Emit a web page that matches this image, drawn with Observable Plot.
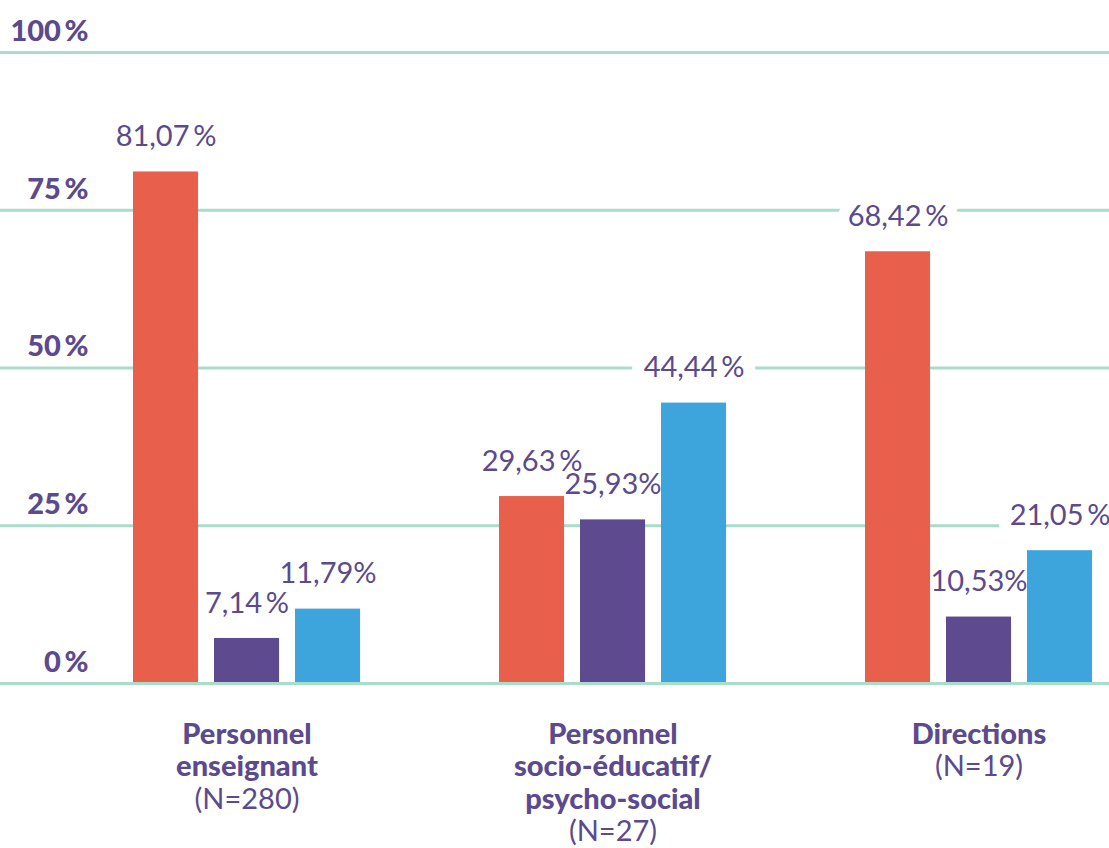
<!DOCTYPE html>
<html><head><meta charset="utf-8">
<script src="https://cdn.jsdelivr.net/npm/d3@7"></script>
<script src="https://cdn.jsdelivr.net/npm/@observablehq/plot@0.6"></script>
<style>body{margin:0;background:#fff;} svg{display:block;}</style>
</head><body><div id="chart"></div>
<script>
const categories = ["Personnel enseignant", "Personnel socio-éducatif/psycho-social", "Directions"];
const categoryLines = [["Personnel", "enseignant"], ["Personnel", "socio-éducatif/", "psycho-social"], ["Directions"]];
const categoryN = ["(N=280)", "(N=27)", "(N=19)"];
const series = ["Série 1", "Série 2", "Série 3"];
const seriesColors = ["#E8604C", "#5E4A8E", "#3DA5DC"];
const values1 = [81.07, 29.63, 68.42];
const values2 = [7.14, 25.93, 10.53];
const values3 = [11.79, 44.44, 21.05];
const labels1 = ["81,07\u2009%", "29,63\u2009%", "68,42\u2009%"];
const labels2 = ["7,14\u2009%", "25,93%", "10,53%"];
const labels3 = ["11,79%", "44,44\u2009%", "21,05\u2009%"];
const yTicks = [0, 25, 50, 75, 100];
const yTickLabels = ["0\u2009%", "25\u2009%", "50\u2009%", "75\u2009%", "100\u2009%"];

const textColor = "#5B4A8E";
const gridColor = "#A9DCCB";
const allValues = [values1, values2, values3];
const allLabels = [labels1, labels2, labels3];

const xRange = [133, 1092];
const xPadIn = 0.38;
const band = d3.scaleBand().domain(categories).range(xRange).paddingInner(xPadIn).paddingOuter(0);
const bw = band.bandwidth();
const barW = 65, barStep = 81;

const barData = series.map((s, i) => categories.map((c, j) => ({category: c, series: s, value: allValues[i][j], label: allLabels[i][j]})));

const marks = [];
marks.push(Plot.ruleY(yTicks.filter(d => d > 0), {y: d => d, stroke: gridColor, strokeWidth: 3}));
barData.forEach((data, i) => {
  marks.push(Plot.text(data, {x: "category", y: "value", text: "label", dx: (i - 1) * barStep, dy: -35,
    lineAnchor: "middle", fontSize: 29, fill: "white", stroke: "white", strokeWidth: 24}));
});
barData.forEach((data, i) => {
  marks.push(Plot.barY(data, {x: "category", y: "value", fill: seriesColors[i],
    insetLeft: i * barStep, insetRight: bw - i * barStep - barW}));
});
barData.forEach((data, i) => {
  marks.push(Plot.text(data, {x: "category", y: "value", text: "label", dx: (i - 1) * barStep, dy: -35,
    lineAnchor: "middle", fontSize: 29, fill: textColor}));
});
marks.push(Plot.ruleY([0], {stroke: gridColor, strokeWidth: 3}));
marks.push(Plot.text(yTicks.map((t, k) => ({t, label: yTickLabels[k]})), {
  y: "t", text: "label", frameAnchor: "left", dx: 88, dy: -21, textAnchor: "end", lineAnchor: "middle",
  fontSize: 29, fontWeight: 900, fill: textColor}));
const lineH = 32.5;
const catRows = [];
categories.forEach((c, j) => {
  categoryLines[j].forEach((l, k) => catRows.push({category: c, text: l, row: k, bold: true}));
  catRows.push({category: c, text: categoryN[j], row: categoryLines[j].length, bold: false});
});
for (let r = 0; r < 4; r++) {
  for (const bold of [true, false]) {
    const rows = catRows.filter(d => d.row === r && d.bold === bold);
    if (!rows.length) continue;
    marks.push(Plot.text(rows, {x: "category", text: "text", frameAnchor: "top", dy: 734 + r * lineH,
      lineAnchor: "middle", fontSize: 29, fontWeight: bold ? 900 : "normal", fill: textColor,
      letterSpacing: bold ? "1.5px" : "1px"}));
  }
}

const chart = Plot.plot({
  width: 1109,
  height: 848,
  marginLeft: 0, marginRight: 0, marginTop: 0, marginBottom: 0,
  style: {fontFamily: "Lato, sans-serif", background: "white"},
  x: {domain: categories, range: xRange, paddingInner: xPadIn, paddingOuter: 0, axis: null},
  y: {domain: [0, 100], range: [683, 52], axis: null},
  marks
});
document.getElementById("chart").appendChild(chart);
</script>
</body></html>
